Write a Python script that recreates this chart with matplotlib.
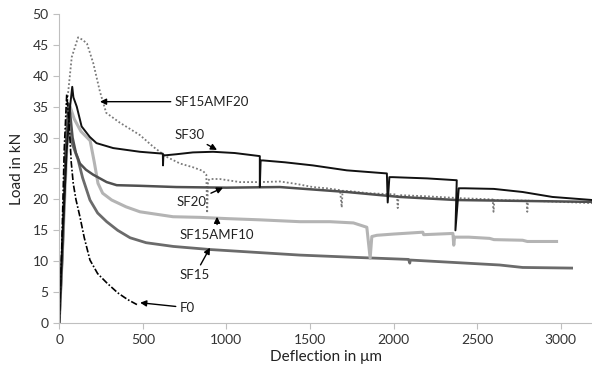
import matplotlib.pyplot as plt

# Curvas carga - deflexion
f0_x = [0, 15, 30, 45, 60, 72, 84, 100, 124, 150, 184, 230, 285, 350, 410, 465]
f0_y = [0, 12, 28, 37, 32, 26, 22.6, 20, 17.2, 13.8, 10.2, 8, 6.5, 4.9, 3.8, 3.0]

sf15_x = [0, 20, 40, 50, 65, 85, 112, 140, 184, 230, 284, 350, 424, 520, 682, 902,
          1200, 1440, 1800, 2090, 2097, 2100, 2300, 2634, 2772, 3065]
sf15_y = [0, 12, 28, 32.5, 30, 28.5, 26.5, 23.5, 19.9, 17.8, 16.4, 15, 13.8, 13, 12.4,
          11.9, 11.4, 11.0, 10.6, 10.3, 9.7, 10.2, 9.9, 9.4, 9.0, 8.9]

sf15amf10_x = [0, 20, 45, 65, 90, 130, 185, 210, 232, 260, 314, 400, 483, 681, 842,
               1000, 1200, 1440, 1620, 1760, 1840, 1860, 1870, 1900, 2000, 2175,
               2180, 2355, 2360, 2365, 2450, 2575, 2600, 2772, 2800, 2975]
sf15amf10_y = [0, 12, 28, 35, 33, 31, 29.5, 26, 22.6, 21, 19.9, 18.8, 18, 17.2, 17.1,
               16.9, 16.7, 16.4, 16.4, 16.2, 15.5, 10.5, 14.0, 14.2, 14.4, 14.7,
               14.3, 14.5, 12.6, 13.9, 13.9, 13.7, 13.5, 13.4, 13.2, 13.2]

sf20_x = [0, 20, 40, 55, 65, 80, 100, 124, 160, 203, 284, 344, 484, 700, 1000, 1320,
          1720, 2037, 2378, 3190]
sf20_y = [0, 12, 28, 35.5, 34, 30, 27.5, 25.8, 24.8, 24, 22.8, 22.3, 22.2, 22.0, 21.9,
          22.0, 21.2, 20.4, 19.9, 19.6]

sf30_x = [0, 20, 45, 65, 78, 85, 105, 134, 183, 223, 323, 483, 620, 621, 623, 700,
          800, 920, 1050, 1200, 1200, 1205, 1220, 1350, 1517, 1720, 1960, 1965,
          1975, 1995, 2200, 2378, 2370, 2390, 2425, 2600, 2772, 2950, 3190]
sf30_y = [0, 14, 28, 35, 38.2, 36.5, 35, 31.8, 30.1, 29.1, 28.3, 27.7, 27.4, 25.5,
          27.1, 27.3, 27.6, 27.7, 27.5, 27.0, 22, 26.3, 26.3, 26.0, 25.5, 24.7, 24.2,
          19.5, 23.6, 23.6, 23.4, 23.1, 15, 21.8, 21.8, 21.7, 21.2, 20.4, 19.9]

sf15amf20_x = [0, 20, 45, 75, 113, 140, 166, 204, 243, 281, 363, 483, 563, 641, 723,
               800, 860, 880, 885, 890, 900, 960, 1081, 1200, 1320, 1420, 1517,
               1600, 1680, 1690, 1695, 1750, 1850, 2020, 2025, 2030, 2200, 2400,
               2593, 2598, 2603, 2796, 2800, 2805, 3000, 3190]
sf15amf20_y = [0, 12, 35, 43, 46.2, 45.8, 45.2, 42, 37.5, 34, 32.4, 30.4, 28.5, 26.9,
               25.8, 25.2, 24.6, 24.0, 17.8, 23.0, 23.3, 23.3, 22.8, 22.8, 22.9,
               22.5, 22.0, 21.8, 21.5, 18.7, 21.4, 21.3, 21.0, 20.8, 18.6, 20.7,
               20.5, 20.2, 20.0, 18.0, 19.9, 19.8, 18.0, 19.8, 19.6, 19.4]

# etiquetas: (texto, punta x, punta y, texto x, texto y)
etiquetas = [
    ("SF15AMF20", 244, 35.8, 692, 35.8),
    ("SF30", 944, 28.0, 692, 30.4),
    ("SF20", 980, 21.9, 704, 19.6),
    ("SF15AMF10", 944, 17.2, 722, 14.3),
    ("SF15", 902, 12.2, 722, 7.8),
    ("F0", 484, 3.3, 722, 2.5),
]


def main():

    plt.rcParams['font.family'] = ['Lato', 'DejaVu Sans']

    fig = plt.figure(figsize=(5.92, 3.74), dpi=100)
    ax = fig.add_subplot()
    fig.subplots_adjust(left=0.1, right=1.0, bottom=0.136, top=0.963)

    # series
    ax.plot(sf15amf20_x, sf15amf20_y, color='#7a7a7a', lw=1.3, linestyle=(0, (1, 1.2)))
    ax.plot(sf15_x, sf15_y, color='#6b6b6b', lw=2.0)
    ax.plot(sf15amf10_x, sf15amf10_y, color='#b4b4b4', lw=2.2)
    ax.plot(sf20_x, sf20_y, color='#505050', lw=1.8)
    ax.plot(sf30_x, sf30_y, color='#111111', lw=1.4)
    ax.plot(f0_x, f0_y, color='black', lw=1.2, linestyle=(0, (4, 1.2, 1, 1.2)))

    for texto, px, py, tx, ty in etiquetas:
        ax.annotate(texto, xy=(px, py), xytext=(tx, ty), ha='left', va='center',
                    fontsize=9.5, color='#222222',
                    arrowprops=dict(arrowstyle='-|>', color='black', lw=1,
                                    mutation_scale=9, shrinkA=1, shrinkB=0))

    ax.set_xlim(0, 3187)
    ax.set_ylim(0, 50)
    ax.set_xticks(range(0, 3001, 500))
    ax.set_yticks(range(0, 51, 5))

    for lado in ['top', 'right']:
        ax.spines[lado].set_visible(False)
    for lado in ['left', 'bottom']:
        ax.spines[lado].set_color('#bfbfbf')
    ax.tick_params(colors='#bfbfbf', labelcolor='#333333', labelsize=10, length=4)

    ax.set_xlabel("Deflection in μm", fontsize=11, color='#222222', labelpad=3)
    ax.set_ylabel("Load in kN", fontsize=11, color='#222222', labelpad=6)

    plt.savefig("out.png", dpi=100)


if __name__ == "__main__":
    main()
